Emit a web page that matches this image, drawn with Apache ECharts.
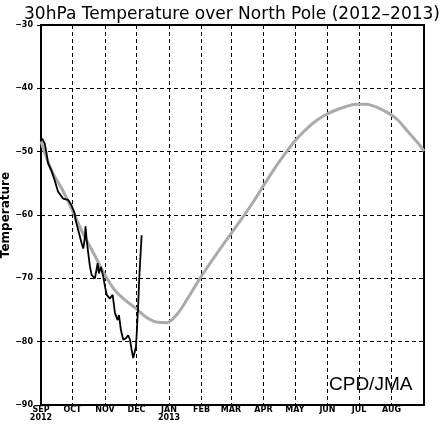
<!DOCTYPE html>
<html>
<head>
<meta charset="utf-8">
<title>30hPa Temperature over North Pole</title>
<script src="https://cdn.jsdelivr.net/npm/echarts@6/dist/echarts.min.js"></script>
<style>
  html, body { margin: 0; padding: 0; background: #fff; }
  #main { width: 444px; height: 429px; }
</style>
</head>
<body>
<div id="main"></div>
<script type="text/javascript">
// days counted from 1 Sep 2012
var monthDays = [0, 30, 61, 91, 122, 153, 181, 212, 242, 273, 303, 334];
var monthLabels = ['SEP\n2012', 'OCT', 'NOV', 'DEC', 'JAN\n2013', 'FEB', 'MAR', 'APR', 'MAY', 'JUN', 'JUL', 'AUG'];
var yTicks = [-90, -80, -70, -60, -50, -40, -30];

// observed 2012 (black)
var obsDays = [1.0, 3.5, 5.0, 6.7, 9.8, 13.0, 16.2, 21.0, 25.7, 28.9, 32.0, 33.0, 35.5, 38.8, 40.3, 41.9,
  42.4, 43.5, 45.0, 46.7, 48.3, 51.4, 54.0, 55.2, 57.1, 58.8, 59.3, 61.0, 62.6, 65.7, 68.3, 70.5,
  73.0, 74.3, 76.2, 78.4, 80.7, 83.1, 84.8, 86.4, 87.9, 89.5, 90.5, 91.4, 92.7, 93.6, 94.6, 95.9];
var obsTemp = [-47.9, -48.7, -50.0, -51.8, -52.9, -54.5, -56.3, -57.4, -57.6, -58.4, -59.7, -60.8, -62.4, -64.5, -65.3, -63.4,
  -61.8, -63.9, -66.0, -68.2, -69.5, -70.0, -67.6, -69.2, -68.2, -68.4, -69.7, -71.3, -72.6, -73.2, -72.6, -75.5,
  -76.6, -75.8, -78.2, -79.7, -79.5, -79.0, -79.7, -81.3, -82.6, -82.4, -80.8, -78.2, -73.9, -70.0, -67.1, -63.2];

// climatology (grey), every 10 days
var climDays = [0, 10, 20, 30, 40, 50, 60, 70, 80, 90, 100, 110, 120, 130, 140, 150, 160, 170, 180,
  190, 200, 210, 220, 230, 240, 250, 260, 270, 280, 290, 300, 310, 320, 330, 340, 350, 360, 365];
var climTemp = [-48.4, -53.0, -55.9, -59.3, -62.9, -66.0, -69.2, -71.8, -73.4, -74.7, -76.1, -76.9, -77.0, -75.6, -73.1, -70.4, -67.9, -65.5, -63.2,
  -60.9, -58.5, -55.9, -53.3, -50.9, -48.7, -46.9, -45.4, -44.3, -43.5, -42.9, -42.5, -42.5, -43.0, -43.8, -45.0, -46.9, -48.8, -49.9];

function pairs(xs, ys) {
  return xs.map(function (x, i) { return [x, ys[i]]; });
}

var myChart = echarts.init(document.getElementById('main'));
var option = {
  backgroundColor: '#ffffff',
  animation: false,
  title: {
    text: '30hPa Temperature over North Pole (2012\u20132013)',
    left: 19,
    top: 1,
    textStyle: { fontFamily: 'DejaVu Sans', fontSize: 17, fontWeight: 'normal', color: '#000' }
  },
  grid: {
    left: 41, right: 20, top: 25, bottom: 24,
    outerBoundsMode: 'none',
    containLabel: false,
    show: true, borderColor: '#000', borderWidth: 2, backgroundColor: 'transparent'
  },
  xAxis: {
    type: 'value',
    min: 0,
    max: 365,
    axisLine: { show: true, onZero: false, lineStyle: { color: '#000', width: 2 } },
    axisTick: { show: false, customValues: monthDays },
    axisLabel: {
      customValues: monthDays,
      showMinLabel: true,
      hideOverlap: false,
      margin: 1,
      lineHeight: 8,
      fontFamily: 'DejaVu Sans',
      fontSize: 8,
      fontWeight: 'bold',
      color: '#000',
      formatter: function (v) {
        var i = monthDays.indexOf(Math.round(v));
        return i >= 0 ? monthLabels[i] : '';
      }
    },
    splitLine: { show: true, lineStyle: { color: '#000', width: 1, type: [4, 3] } }
  },
  yAxis: {
    type: 'value',
    min: yTicks[0],
    max: yTicks[yTicks.length - 1],
    interval: 10,
    name: 'Temperature',
    nameLocation: 'middle',
    nameGap: 29,
    nameRotate: 90,
    nameMoveOverlap: false,
    nameTextStyle: { fontFamily: 'DejaVu Sans', fontSize: 12, fontWeight: 'bold', color: '#000' },
    axisLine: { show: true, lineStyle: { color: '#000', width: 2 } },
    axisTick: { show: true, length: 4, lineStyle: { color: '#000', width: 1 } },
    axisLabel: {
      margin: 8,
      fontFamily: 'DejaVu Sans',
      fontSize: 8,
      fontWeight: 'bold',
      color: '#000',
      formatter: function (v) { return String(v).replace('-', '\u2212'); }
    },
    splitLine: { show: true, lineStyle: { color: '#000', width: 1, type: [4, 3] } }
  },
  graphic: [{
    type: 'text',
    left: 329,
    top: 375,
    style: { text: 'CPD/JMA', fontFamily: 'Liberation Sans', fontSize: 19, fill: '#000' }
  }],
  series: [
    {
      name: 'climate',
      type: 'line',
      data: pairs(climDays, climTemp),
      smooth: 0.3,
      showSymbol: false,
      lineStyle: { color: '#aaaaaa', width: 3 },
      z: 2
    },
    {
      name: '2012',
      type: 'line',
      data: pairs(obsDays, obsTemp),
      showSymbol: false,
      lineStyle: { color: '#000', width: 1.8 },
      z: 3
    }
  ]
};
myChart.setOption(option);
</script>
</body>
</html>
